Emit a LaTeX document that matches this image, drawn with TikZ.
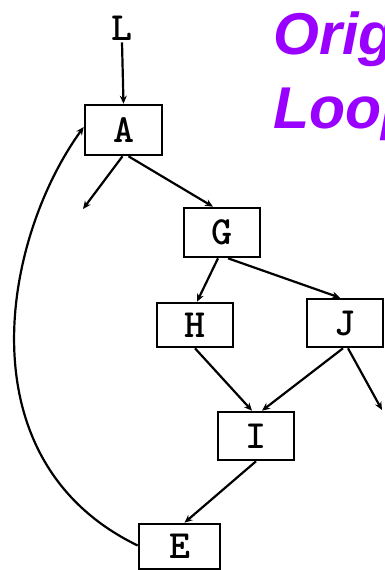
\documentclass[tikz,border=0pt]{standalone}
\usepackage{fontspec}
\setmainfont{Liberation Sans}
\usetikzlibrary{arrows.meta}
\definecolor{titlepurple}{HTML}{9900FF}
\begin{document}
\begin{tikzpicture}[x=1pt,y=-1pt,
  lbl/.style={font=\ttfamily\bfseries\fontsize{40}{40}\selectfont},
  blk/.style={lbl,draw,line width=2.6pt,inner sep=0pt},
  edge/.style={line width=2.2pt,-{Stealth[length=8pt,width=7pt]}},
  title/.style={text=titlepurple,font=\bfseries\itshape\fontsize{59}{59}\selectfont,anchor=base west,inner sep=0pt}]
  \useasboundingbox (0,0) rectangle (385,570);
  \clip (0,0) rectangle (385,570);

  % heading
  \node[title] (t1) at (273,54) {Original};
  \node[title] (t2) at (273,128) {Loop};

  % blocks of the loop
  \node[lbl,inner sep=2pt] (L) at (122,28) {L};
  \node[blk,minimum width=77pt,minimum height=50pt] (A) at (123.5,130) {A};
  \node[blk,minimum width=76pt,minimum height=49pt] (G) at (222,232.5) {G};
  \node[blk,minimum width=76pt,minimum height=44pt] (H) at (195,325) {H};
  \node[blk,minimum width=76pt,minimum height=48pt] (J) at (345,323) {J};
  \node[blk,minimum width=76pt,minimum height=48pt] (I) at (256,436) {I};
  \node[blk,minimum width=81pt,minimum height=45pt] (E) at (179.5,546.5) {E};

  % exits of the loop
  \coordinate (xa) at (83,209);
  \coordinate (xj) at (382,410);

  % edges
  \draw[edge] (L.south) -- (A.north);
  \draw[edge] ([xshift=-1pt]A.south) -- (xa);
  \draw[edge] ([xshift=5pt]A.south) -- ([xshift=-9pt]G.north);
  \draw[edge] ([xshift=-4pt]G.south) -- ([xshift=2pt]H.north);
  \draw[edge] ([xshift=6pt]G.south) -- ([xshift=-5pt]J.north);
  \draw[edge] (H.south) -- ([xshift=-4pt]I.north);
  \draw[edge] ([xshift=-2pt]J.south) -- ([xshift=6pt]I.north);
  \draw[edge] ([xshift=3pt]J.south) -- (xj);
  \draw[edge] (I.south) -- ([xshift=5pt]E.north);
  % back edge
  \draw[edge] ([yshift=1pt]E.west) .. controls (-37,461) and (2,240) .. ([yshift=3pt]A.west);
\end{tikzpicture}
\end{document}
